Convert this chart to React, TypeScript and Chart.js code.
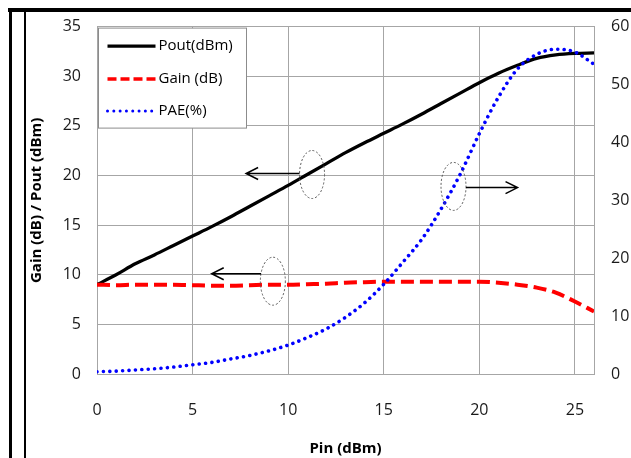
import React, { useEffect, useRef } from "react";
import { Chart, registerables } from "chart.js";
Chart.register(...registerables);

// ---- data ----
const PIN = [0, 1, 2, 3, 4, 5, 6, 7, 8, 9, 10, 11, 12, 13, 14, 15, 16, 17, 18, 19, 20, 21, 22, 23, 24, 25, 26];
const POUT = [9.0, 10.0, 11.1, 12.0, 12.95, 13.9, 14.85, 15.85, 16.9, 17.95, 19.0, 20.1, 21.2, 22.3, 23.3, 24.25, 25.2, 26.2, 27.25, 28.3, 29.35, 30.3, 31.1, 31.8, 32.15, 32.3, 32.35];
const GAIN = [9.0, 8.95, 9.0, 9.0, 9.0, 8.95, 8.9, 8.9, 8.95, 9.0, 9.0, 9.05, 9.1, 9.2, 9.25, 9.3, 9.3, 9.3, 9.3, 9.3, 9.3, 9.2, 9.0, 8.7, 8.2, 7.3, 6.3];
const PAE = [0.4, 0.5, 0.7, 0.9, 1.2, 1.6, 2.0, 2.6, 3.2, 4.0, 5.0, 6.3, 7.8, 9.8, 12.3, 15.5, 19.3, 23.3, 28.5, 34.5, 41.5, 47.8, 52.7, 55.2, 56.1, 55.6, 53.5];

const X_TICKS = [0, 5, 10, 15, 20, 25];
const Y_TICKS = [0, 5, 10, 15, 20, 25, 30, 35];
const Y1_TICKS = [0, 10, 20, 30, 40, 50, 60];

const SERIES_NAMES = ["Pout(dBm)", "Gain (dB)", "PAE(%)"];
const X_TITLE = "Pin (dBm)";
const Y_TITLE = "Gain (dB) / Pout (dBm)";

// annotation callouts: ellipse centre (pin, value), arrow level, arrow tip pin
const ANNOTATIONS = [
  { axis: "y", pin: 11.25, val: 20.1, arrowVal: 20.2, tipPin: 7.8 },
  { axis: "y", pin: 9.2, val: 9.35, arrowVal: 10.1, tipPin: 6.0 },
  { axis: "y1", pin: 18.65, val: 32.4, arrowVal: 32.2, tipPin: 22.0 },
];

const FONT = "'Open Sans', sans-serif";

const overlay = {
  id: "overlay",
  afterDatasetsDraw(chart: any) {
    const { ctx, scales } = chart;
    const x = scales.x;
    ctx.save();
    // callouts
    for (const a of ANNOTATIONS) {
      const sy = scales[a.axis];
      const cx = x.getPixelForValue(a.pin);
      const cy = sy.getPixelForValue(a.val);
      const rx = 12.5, ry = 24;
      ctx.setLineDash([2, 2]);
      ctx.strokeStyle = "#555";
      ctx.lineWidth = 1;
      ctx.beginPath();
      ctx.ellipse(cx, cy, rx, ry, 0, 0, Math.PI * 2);
      ctx.stroke();
      ctx.setLineDash([]);
      const ay = sy.getPixelForValue(a.arrowVal);
      const tx = x.getPixelForValue(a.tipPin);
      const dir = tx < cx ? -1 : 1;
      const dy = ay - cy;
      const ex = cx + dir * rx * Math.sqrt(Math.max(0, 1 - (dy / ry) * (dy / ry)));
      ctx.strokeStyle = "#000";
      ctx.lineWidth = 1.5;
      ctx.beginPath();
      ctx.moveTo(ex, ay);
      ctx.lineTo(tx, ay);
      ctx.moveTo(tx - dir * 12, ay - 6);
      ctx.lineTo(tx, ay);
      ctx.lineTo(tx - dir * 12, ay + 6);
      ctx.stroke();
    }
    // legend
    const ca = chart.chartArea;
    const bx = ca.left + 1.5, by = ca.top + 1.5, bw = 148, bh = 100;
    ctx.fillStyle = "#fff";
    ctx.fillRect(bx, by, bw, bh);
    ctx.strokeStyle = "#8c8c8c";
    ctx.lineWidth = 1;
    ctx.strokeRect(bx, by, bw, bh);
    const rows = [18, 51, 83];
    const dashes = [[], [9, 4], [0.01, 6.3]];
    const caps = ["butt", "butt", "round"];
    const widths = [3.2, 3.5, 3];
    chart.data.datasets.forEach((ds: any, i: number) => {
      const yy = by + rows[i];
      ctx.strokeStyle = ds.borderColor;
      ctx.lineWidth = widths[i];
      ctx.lineCap = caps[i];
      ctx.setLineDash(dashes[i]);
      ctx.beginPath();
      ctx.moveTo(bx + 9, yy);
      ctx.lineTo(bx + 57, yy);
      ctx.stroke();
      ctx.setLineDash([]);
      ctx.lineCap = "butt";
      ctx.fillStyle = "#000";
      ctx.font = `15px ${FONT}`;
      ctx.textBaseline = "middle";
      ctx.textAlign = "left";
      ctx.fillText(ds.label, bx + 60, yy);
    });
    ctx.restore();
  },
};

export default function App() {
  const ref = useRef<HTMLCanvasElement | null>(null);
  useEffect(() => {
    if (!ref.current) return;
    const pts = (vals: number[]) => PIN.map((p, i) => ({ x: p, y: vals[i] }));
    const chart = new Chart(ref.current, {
      type: "line",
      data: {
        datasets: [
          {
            label: SERIES_NAMES[0],
            data: pts(POUT),
            yAxisID: "y",
            borderColor: "#000000",
            borderWidth: 3.3,
            pointRadius: 0,
            cubicInterpolationMode: "monotone",
            order: 2,
          },
          {
            label: SERIES_NAMES[1],
            data: pts(GAIN),
            yAxisID: "y",
            borderColor: "#ff0000",
            borderWidth: 4,
            borderDash: [13, 6],
            pointRadius: 0,
            cubicInterpolationMode: "monotone",
            order: 1,
          },
          {
            label: SERIES_NAMES[2],
            data: pts(PAE),
            yAxisID: "y1",
            borderColor: "#0000ff",
            borderWidth: 3.6,
            borderDash: [0.01, 6.4],
            borderCapStyle: "round",
            pointRadius: 0,
            cubicInterpolationMode: "monotone",
            order: 0,
          },
        ],
      },
      options: {
        animation: false,
        responsive: false,
        maintainAspectRatio: false,
        layout: { padding: { top: 24, left: 0, right: 0, bottom: 0 } },
        plugins: { legend: { display: false }, tooltip: { enabled: false } },
        scales: {
          x: {
            type: "linear",
            min: 0,
            max: 26,
            afterBuildTicks: (s: any) => {
              s.ticks = X_TICKS.map((v) => ({ value: v }));
            },
            afterFit: (s: any) => {
              s.height = 84;
            },
            grid: { color: "#a6a6a6", lineWidth: 1, drawTicks: false },
            border: { color: "#a6a6a6", width: 1 },
            ticks: { padding: 27, color: "#1a1a1a", font: { family: FONT, size: 16 } },
            title: {
              display: true,
              text: X_TITLE,
              color: "#000",
              font: { family: FONT, size: 15, weight: "bold" },
              padding: { top: 0, bottom: 0 },
            },
          },
          y: {
            type: "linear",
            position: "left",
            min: 0,
            max: 35,
            afterBuildTicks: (s: any) => {
              s.ticks = Y_TICKS.map((v) => ({ value: v }));
            },
            afterFit: (s: any) => {
              s.width = 97;
            },
            grid: { color: "#a6a6a6", lineWidth: 1, drawTicks: false },
            border: { color: "#a6a6a6", width: 1 },
            ticks: { padding: 16, color: "#1a1a1a", font: { family: FONT, size: 16 } },
            title: {
              display: true,
              text: Y_TITLE,
              color: "#000",
              font: { family: FONT, size: 15, weight: "bold" },
              padding: { top: 28, bottom: 0 },
            },
          },
          y1: {
            type: "linear",
            position: "right",
            min: 0,
            max: 60,
            afterBuildTicks: (s: any) => {
              s.ticks = Y1_TICKS.map((v) => ({ value: v }));
            },
            afterFit: (s: any) => {
              s.width = 37;
            },
            grid: { display: false, drawTicks: false },
            border: { color: "#a6a6a6", width: 1 },
            ticks: { padding: 17, color: "#1a1a1a", font: { family: FONT, size: 16 } },
          },
        },
      },
      plugins: [overlay],
    } as any);
    return () => chart.destroy();
  }, []);

  return (
    <div style={{ position: "fixed", left: 0, top: 0, width: 631, height: 458, background: "#fff", overflow: "hidden" }}>
      <div style={{ position: "absolute", left: 8, top: 8, width: 623, height: 4, background: "#000" }} />
      <div style={{ position: "absolute", left: 9, top: 8, width: 3, height: 450, background: "#000" }} />
      <div style={{ position: "absolute", left: 24, top: 12, width: 2, height: 446, background: "#000" }} />
      <canvas ref={ref} width={631} height={458} style={{ position: "absolute", left: 0, top: 0, width: 631, height: 458 }} />
    </div>
  );
}
